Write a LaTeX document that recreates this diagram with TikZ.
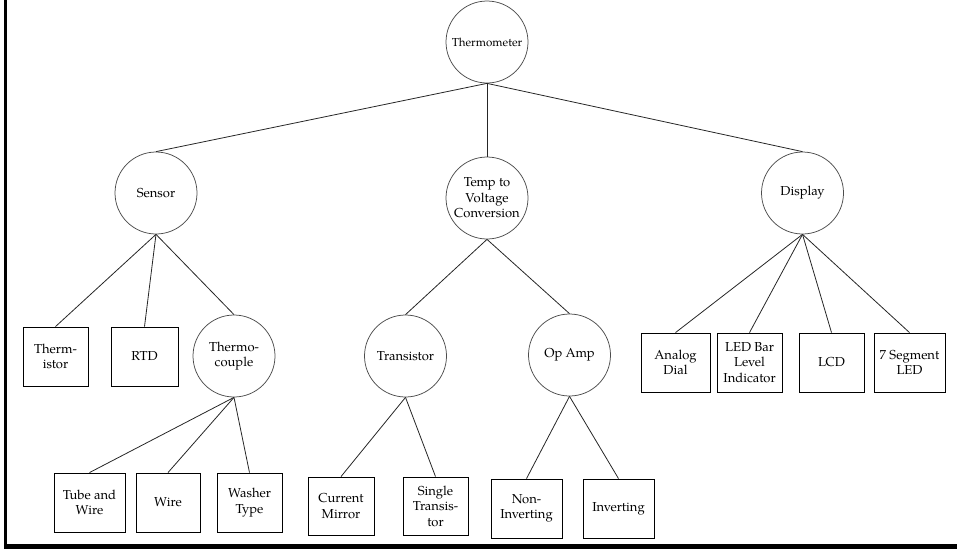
\documentclass[tikz,border=0pt]{standalone}
\usepackage{fontspec}
\setmainfont{TeX Gyre Pagella}
\begin{document}
\begin{tikzpicture}[x=1pt,y=-1pt,
  circ/.style={circle,draw=black!70,line width=0.75pt,minimum size=82pt,inner sep=0pt,align=center,font=\fontsize{13}{15.5}\selectfont},
  box/.style={rectangle,draw=black,line width=0.85pt,minimum width=65pt,minimum height=59pt,inner sep=1pt,align=center,font=\fontsize{13}{15.5}\selectfont},
  edge/.style={draw=black!85,line width=0.8pt}]
\useasboundingbox (0,0) rectangle (957,549);
\fill[black] (4,0) rectangle (6.5,546);
\fill[black] (4,543.5) rectangle (957,549);

\node[circ,font=\fontsize{11.6}{13}\selectfont] (root) at (487,42) {Thermometer};
\node[circ] (sensor) at (156,193) {Sensor};
\node[circ] (temp) at (487,198) {Temp to\\Voltage\\Conversion};
\node[circ] (display) at (802.5,193) {Display};

\node[box] (thermistor) at (55.5,356.5) {Therm-\\istor};
\node[box,minimum width=67pt] (rtd) at (144.5,356.5) {RTD};
\node[circ] (couple) at (234,356) {Thermo-\\couple};

\node[box,minimum width=71pt] (tube) at (89.5,502.5) {Tube and\\Wire};
\node[box,minimum width=64pt] (wire) at (168,502.5) {Wire};
\node[box] (washer) at (249.5,502.5) {Washer\\Type};

\node[circ] (transistor) at (405.5,356) {Transistor};
\node[circ] (opamp) at (569.5,355) {Op Amp};

\node[box,minimum width=66pt,minimum height=58pt] (current) at (341,506) {Current\\Mirror};
\node[box,minimum height=58pt] (single) at (435.5,506) {Single\\Transis-\\tor};
\node[box,minimum width=71pt] (noninv) at (526.5,508.5) {Non-\\Inverting};
\node[box,minimum width=71pt] (inv) at (618.5,508.5) {Inverting};

\node[box,minimum width=69pt] (analog) at (675.5,362.5) {Analog\\Dial};
\node[box] (ledbar) at (749.5,362.5) {LED Bar\\Level\\Indicator};
\node[box] (lcd) at (831.5,362.5) {LCD};
\node[box,minimum width=71pt] (seg) at (909.5,362.5) {7 Segment\\LED};

\draw[edge] (root.south) -- (sensor.north);
\draw[edge] (root.south) -- (temp.north);
\draw[edge] (root.south) -- (display.north);

\draw[edge] (sensor.south) -- (thermistor.north);
\draw[edge] (sensor.south) -- (rtd.north);
\draw[edge] (sensor.south) -- (couple.north);

\draw[edge] (couple.south) -- (tube.north);
\draw[edge] (couple.south) -- (wire.north);
\draw[edge] (couple.south) -- (washer.north);

\draw[edge] (temp.south) -- (transistor.north);
\draw[edge] (temp.south) -- (opamp.north);

\draw[edge] (transistor.south) -- (current.north);
\draw[edge] (transistor.south) -- (single.north);
\draw[edge] (opamp.south) -- (noninv.north);
\draw[edge] (opamp.south) -- (inv.north);

\draw[edge] (display.south) -- (analog.north);
\draw[edge] (display.south) -- (ledbar.north);
\draw[edge] (display.south) -- (lcd.north);
\draw[edge] (display.south) -- (seg.north);
\end{tikzpicture}
\end{document}
